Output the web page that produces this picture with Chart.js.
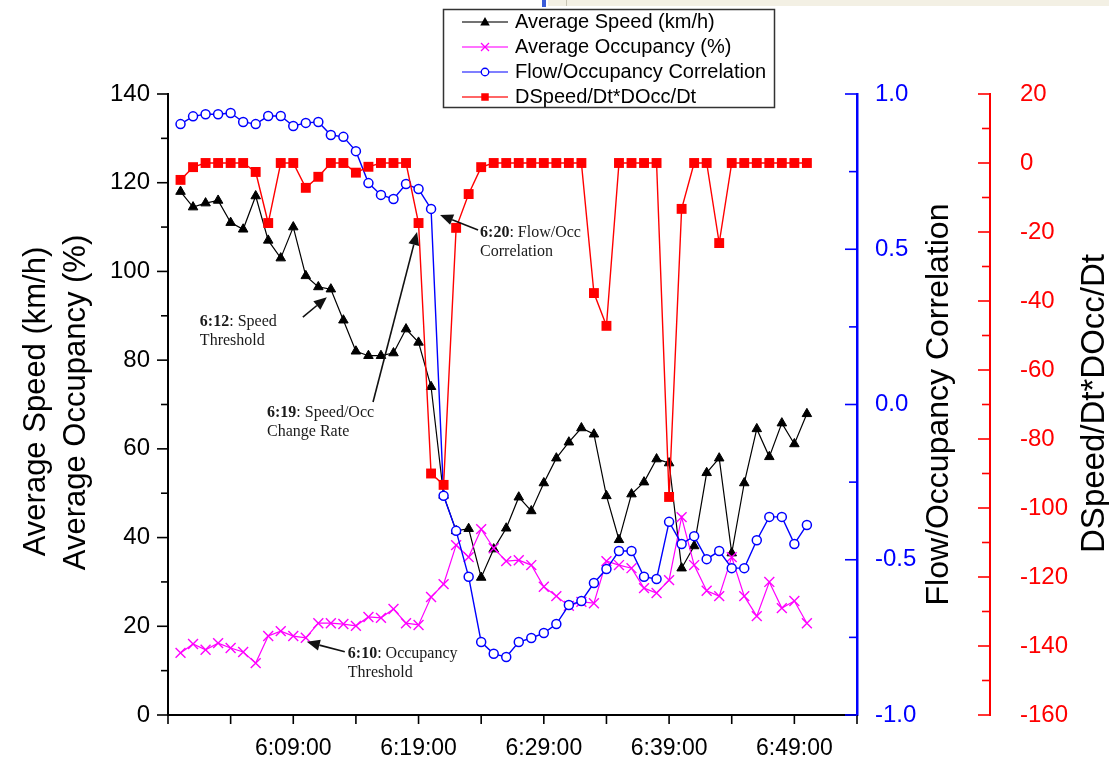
<!DOCTYPE html>
<html><head><meta charset="utf-8">
<script src="https://cdn.jsdelivr.net/npm/chart.js@4.4.1/dist/chart.umd.min.js"></script>
<style>html,body{margin:0;padding:0;background:#fff;}#wrap{width:1109px;height:760px;position:relative;}</style>
</head><body><div id="wrap"><canvas id="c" width="1109" height="760"></canvas></div>
<script>
// ---- data ----
const timeLabels = ['6:00:00','6:01:00','6:02:00','6:03:00','6:04:00','6:05:00','6:06:00','6:07:00','6:08:00','6:09:00',
  '6:10:00','6:11:00','6:12:00','6:13:00','6:14:00','6:15:00','6:16:00','6:17:00','6:18:00','6:19:00',
  '6:20:00','6:21:00','6:22:00','6:23:00','6:24:00','6:25:00','6:26:00','6:27:00','6:28:00','6:29:00',
  '6:30:00','6:31:00','6:32:00','6:33:00','6:34:00','6:35:00','6:36:00','6:37:00','6:38:00','6:39:00',
  '6:40:00','6:41:00','6:42:00','6:43:00','6:44:00','6:45:00','6:46:00','6:47:00','6:48:00','6:49:00','6:50:00'];
const speed = [118,114.5,115.4,116,111,109.5,117,107,103,110,
  99,96.5,96,89,82,81,81,81.6,87,84,
  74,49.5,41.5,42,31,37.4,42.1,49.1,46,52.3,
  57.9,61.5,64.7,63.3,49.4,39.5,49.8,52.5,57.7,56.8,
  33.1,38.1,54.6,57.9,36.5,52.3,64.5,58.2,65.8,61.1,67.9];
const occupancy = [14.0,16.0,14.7,16.2,15.1,14.2,11.7,17.8,18.9,17.8,
  17.4,20.7,20.7,20.5,20.1,22.1,21.9,23.9,20.7,20.3,
  26.6,29.5,38.3,35.6,41.9,37.6,34.7,34.9,33.8,28.9,
  26.8,24.6,25.5,25.2,34.7,33.8,33.1,28.6,27.5,30.4,
  44.6,33.8,28,26.8,35.6,26.8,22.3,30,24.1,25.7,20.7];
const flowOccCorr = [0.903,0.928,0.935,0.935,0.939,0.910,0.903,0.929,0.929,0.897,
  0.907,0.910,0.868,0.862,0.816,0.713,0.675,0.662,0.710,0.694,
  0.630,-0.294,-0.407,-0.555,-0.765,-0.803,-0.813,-0.765,-0.752,-0.736,
  -0.707,-0.646,-0.633,-0.575,-0.530,-0.472,-0.472,-0.555,-0.562,-0.378,
  -0.449,-0.424,-0.498,-0.472,-0.527,-0.527,-0.437,-0.362,-0.362,-0.449,-0.388];
const dSpeedDOcc = [-4.9,-1.2,0,0,0,0,-2.6,-17.4,0,0,
  -7.2,-4,0,0,-2.8,-1.1,0,0,0,-17.4,
  -90,-93.3,-18.8,-9,-1.2,0,0,0,0,0,
  0,0,0,-37.7,-47.2,0,0,0,0,-96.8,
  -13.3,0,0,-23.2,0,0,0,0,0,0,0];
const xTickMinutes = [-1,4,9,14,19,24,29,34,39,44,49,54];
const xTickLabels = ['6:09:00','6:19:00','6:29:00','6:39:00','6:49:00'];
const seriesNames = ['Average Speed (km/h)','Average Occupancy (%)','Flow/Occupancy Correlation','DSpeed/Dt*DOcc/Dt'];

// ---- helpers ----
const toMin = s => { const p = s.split(':').map(Number); return p[0]*60 + p[1] - 360; };
const xs = timeLabels.map(toMin);
const pts = arr => arr.map((v, i) => ({x: xs[i], y: v}));
const fmtMin = m => { const t = m + 360; const h = Math.floor(t/60), mm = t % 60; return h + ':' + String(mm).padStart(2,'0') + ':00'; };

Chart.defaults.font.family = "'Liberation Sans', Arial, sans-serif";

function seg(c, x1, y1, x2, y2){ c.beginPath(); c.moveTo(x1,y1); c.lineTo(x2,y2); c.stroke(); }
function marker(c, style, x, y, r, color){
  c.save(); c.strokeStyle = color; c.fillStyle = color; c.lineWidth = 1.3;
  if (style === 'triangle'){ c.beginPath(); c.moveTo(x, y - r); c.lineTo(x + r*0.95, y + r*0.7); c.lineTo(x - r*0.95, y + r*0.7); c.closePath(); c.fill(); }
  else if (style === 'x'){ seg(c, x-r*0.8, y-r*0.8, x+r*0.8, y+r*0.8); seg(c, x-r*0.8, y+r*0.8, x+r*0.8, y-r*0.8); }
  else if (style === 'circle'){ c.fillStyle = '#fff'; c.beginPath(); c.arc(x, y, r*0.75, 0, Math.PI*2); c.fill(); c.stroke(); }
  else if (style === 'square'){ c.fillRect(x - r*0.75, y - r*0.75, r*1.5, r*1.5); }
  c.restore();
}
function arrow(c, x1, y1, x2, y2){
  c.save(); c.strokeStyle = '#111'; c.fillStyle = '#111'; c.lineWidth = 1.6;
  const a = Math.atan2(y2 - y1, x2 - x1), L = 13, W = 5.5;
  const bx = x2 - L*Math.cos(a), by = y2 - L*Math.sin(a);
  seg(c, x1, y1, bx, by);
  c.beginPath(); c.moveTo(x2, y2);
  c.lineTo(bx + W*Math.sin(a), by - W*Math.cos(a));
  c.lineTo(bx - W*Math.sin(a), by + W*Math.cos(a));
  c.closePath(); c.fill(); c.restore();
}
function vtext(c, txt, x, y, font, color){
  c.save(); c.translate(x, y); c.rotate(-Math.PI/2); c.font = font; c.fillStyle = color;
  c.textAlign = 'center'; c.textBaseline = 'middle'; c.fillText(txt, 0, 0); c.restore();
}

const legendItems = [
  {color:'#000', line:'#444', style:'triangle'},
  {color:'#ff00ff', line:'#ff44ff', style:'x'},
  {color:'#0000ff', line:'#5555ff', style:'circle'},
  {color:'#ff0000', line:'#ff3333', style:'square'}
];
// annotations anchored to data points: [datasetIndex, pointIndex], offsets in px
const notes = [
  {ds:0, idx:12, bold:'6:12', rest:': Speed', line2:'Threshold', tip:[-4,8], tail:[-28,28], text:[-131,33]},
  {ds:3, idx:19, bold:'6:19', rest:': Speed/Occ', line2:'Change Rate', tip:[-1.5,9], tail:[-45.5,179], text:[-151.5,190]},
  {ds:2, idx:20, bold:'6:20', rest:': Flow/Occ', line2:'Correlation', tip:[9,6], tail:[47,21], text:[49,24]},
  {ds:1, idx:10, bold:'6:10', rest:': Occupancy', line2:'Threshold', tip:[1,4], tail:[39,14], text:[42,16]}
];

const decor = {
  id:'decor',
  beforeDraw(chart){
    const c = chart.ctx; c.save();
    c.fillStyle = '#fff'; c.fillRect(0, 0, chart.width, chart.height);
    c.fillStyle = '#f3f0e4'; c.fillRect(548, 0, 561, 6);
    c.fillStyle = '#c8c4b4'; c.fillRect(566, 0, 1, 6);
    c.fillStyle = '#3a5bd8'; c.fillRect(542, 0, 4, 7);
    c.restore();
  },
  afterDraw(chart){
    const c = chart.ctx; const {x, y, y1, y2} = chart.scales;
    c.save(); c.lineWidth = 1.6;
    // tick marks
    c.strokeStyle = '#000';
    y.ticks.forEach(t => { const p = y.getPixelForValue(t.value); const L = (Math.round(t.value) % 20 === 0) ? 11 : 7; seg(c, y.right, p, y.right - L, p); });
    x.ticks.forEach(t => { const p = x.getPixelForValue(t.value); seg(c, p, x.top, p, x.top + 9); });
    c.strokeStyle = '#0000ff';
    y1.ticks.forEach(t => { const p = y1.getPixelForValue(t.value); const maj = Math.abs(t.value*2 - Math.round(t.value*2)) < 1e-6; seg(c, y1.left, p, y1.left - (maj ? 12 : 8), p); });
    c.strokeStyle = '#ff0000';
    y2.ticks.forEach(t => { const p = y2.getPixelForValue(t.value); const maj = Math.round(t.value) % 20 === 0; seg(c, y2.left, p, y2.left - (maj ? 12 : 8), p); });
    c.restore();
    // axis titles
    const midY = (y.top + y.bottom) / 2;
    vtext(c, seriesNames[0], 36, midY - 3, "31px 'Liberation Sans', Arial, sans-serif", '#000');
    vtext(c, seriesNames[1], 76, midY - 2, "31px 'Liberation Sans', Arial, sans-serif", '#000');
    vtext(c, 'Flow/Occupancy Correlation', y1.left + 82, midY, "32px 'Liberation Sans', Arial, sans-serif", '#000');
    vtext(c, seriesNames[3], y2.left + 105, midY - 1, "33px 'Liberation Sans', Arial, sans-serif", '#000');
    // legend
    c.save();
    c.fillStyle = '#fff'; c.fillRect(443, 9, 332, 98);
    c.strokeStyle = '#333'; c.lineWidth = 1.5; c.strokeRect(443.5, 9.5, 331, 98);
    c.font = "20px 'Liberation Sans', Arial, sans-serif"; c.textBaseline = 'middle'; c.textAlign = 'left';
    legendItems.forEach((it, i) => {
      const ly = 22 + 25*i;
      c.strokeStyle = it.line; c.lineWidth = 1.4; seg(c, 462, ly, 508, ly);
      marker(c, it.style, 485, ly, 5, it.color);
      c.fillStyle = '#000'; c.fillText(seriesNames[i], 515, ly);
    });
    c.restore();
    // annotations
    c.save(); c.textBaseline = 'middle'; c.textAlign = 'left'; c.fillStyle = '#1a1a1a';
    notes.forEach(n => {
      const el = chart.getDatasetMeta(n.ds).data[n.idx];
      const px = el.x, py = el.y;
      arrow(c, px + n.tail[0], py + n.tail[1], px + n.tip[0], py + n.tip[1]);
      const tx = px + n.text[0], ty = py + n.text[1];
      c.font = "bold 16px 'Liberation Serif', 'Times New Roman', serif";
      c.fillText(n.bold, tx, ty);
      const w = c.measureText(n.bold).width;
      c.font = "16px 'Liberation Serif', 'Times New Roman', serif";
      c.fillText(n.rest, tx + w, ty);
      c.fillText(n.line2, tx, ty + 19);
    });
    c.restore();
  }
};

new Chart(document.getElementById('c').getContext('2d'), {
  type:'line',
  data:{ datasets:[
    {label:seriesNames[0], data:pts(speed), yAxisID:'y', borderColor:'#000', backgroundColor:'#000', borderWidth:1.2,
     pointStyle:'triangle', pointRadius:5.5, pointBorderWidth:1, pointBackgroundColor:'#000', pointBorderColor:'#000', tension:0, order:3},
    {label:seriesNames[1], data:pts(occupancy), yAxisID:'y', borderColor:'#ff00ff', backgroundColor:'#ff00ff', borderWidth:1.2,
     pointStyle:'crossRot', pointRadius:7, pointBorderWidth:1.4, pointBorderColor:'#ff00ff', tension:0, order:2},
    {label:seriesNames[2], data:pts(flowOccCorr), yAxisID:'y1', borderColor:'#0000ff', backgroundColor:'#fff', borderWidth:1.4,
     pointStyle:'circle', pointRadius:4.5, pointBorderWidth:1.5, pointBackgroundColor:'#fff', pointBorderColor:'#0000ff', tension:0, order:1},
    {label:seriesNames[3], data:pts(dSpeedDOcc), yAxisID:'y2', borderColor:'#ff0000', backgroundColor:'#ff0000', borderWidth:1.4,
     pointStyle:'rect', pointRadius:7, pointBorderWidth:0, pointBackgroundColor:'#ff0000', pointBorderColor:'#ff0000', tension:0, order:0}
  ]},
  options:{
    responsive:false, animation:false, events:[],
    layout:{padding:{top:94, left:0, right:0, bottom:0}},
    plugins:{legend:{display:false}, tooltip:{enabled:false}},
    scales:{
      x:{type:'linear', min:-1, max:54,
        afterBuildTicks: s => { s.ticks = xTickMinutes.map(v => ({value:v})); },
        afterFit: s => { s.height = 45; },
        ticks:{autoSkip:false, maxRotation:0, padding:20, color:'#000', font:{size:23},
          callback: v => { const lab = fmtMin(v); return xTickLabels.includes(lab) ? lab : ''; }},
        grid:{display:true, drawOnChartArea:false, drawTicks:false},
        border:{display:true, color:'#000', width:2}},
      y:{position:'left', min:0, max:140,
        afterFit: s => { s.width = 168; },
        ticks:{stepSize:10, padding:18, color:'#000', font:{size:24}, callback: v => (Math.round(v) % 20 === 0 ? String(v) : '')},
        grid:{display:true, drawOnChartArea:false, drawTicks:false},
        border:{display:true, color:'#000', width:2}},
      y1:{position:'right', weight:1, min:-1, max:1,
        afterFit: s => { s.width = 133; },
        ticks:{stepSize:0.25, padding:18, color:'#0000ff', font:{size:24},
          callback: v => (Math.abs(v*2 - Math.round(v*2)) < 1e-6 ? Number(v).toFixed(1) : '')},
        grid:{display:true, drawOnChartArea:false, drawTicks:false},
        border:{display:true, color:'#0000ff', width:2.5}},
      y2:{position:'right', weight:2, min:-160, max:20,
        afterFit: s => { s.width = 119; },
        ticks:{stepSize:10, padding:30, color:'#ff0000', font:{size:24}, callback: v => (Math.round(v) % 20 === 0 ? String(v) : '')},
        grid:{display:true, drawOnChartArea:false, drawTicks:false},
        border:{display:true, color:'#ff0000', width:2}}
    }
  },
  plugins:[decor]
});
</script></body></html>
